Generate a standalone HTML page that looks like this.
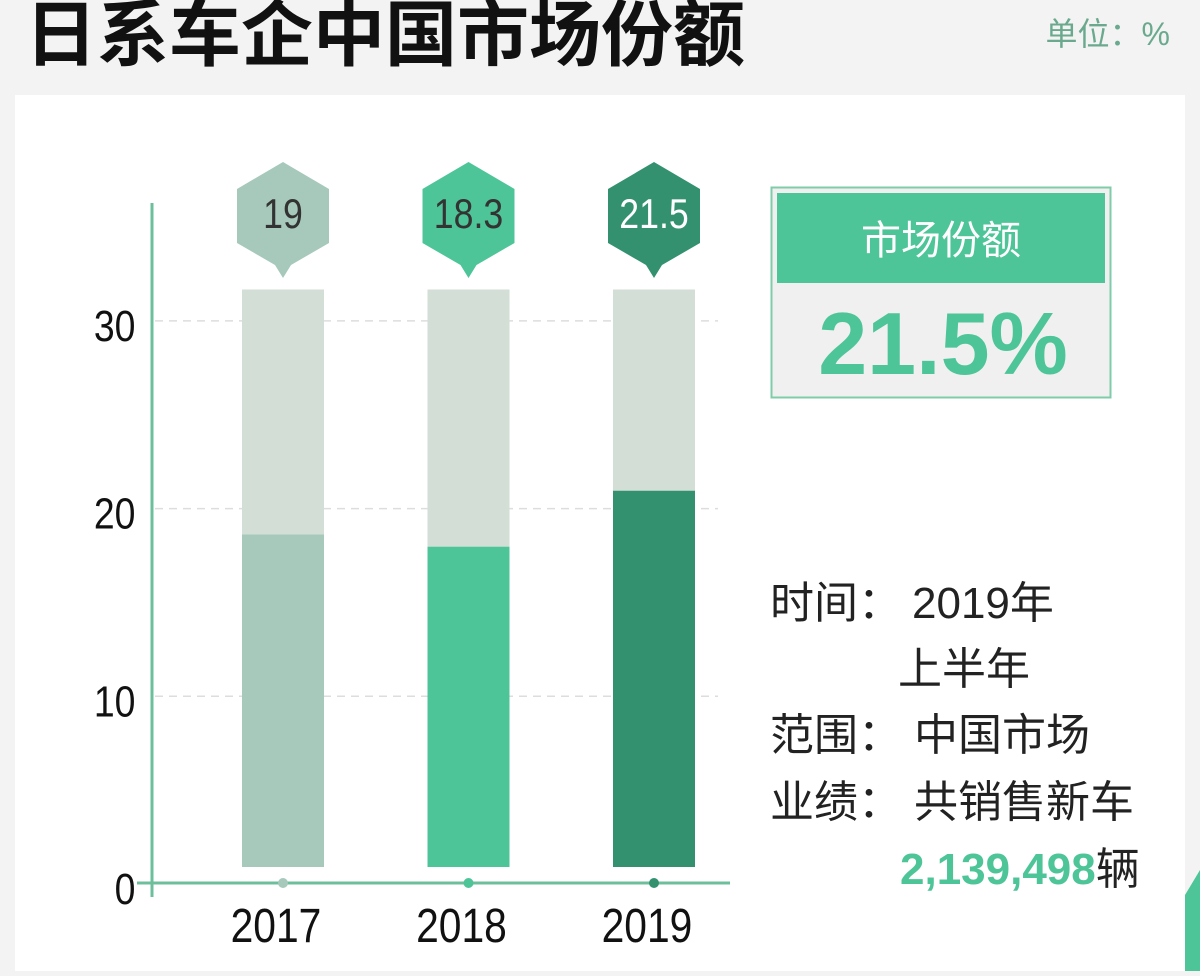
<!DOCTYPE html>
<html><head><meta charset="utf-8"><style>
body{margin:0;width:1200px;height:971px;background:#f3f3f3;overflow:hidden;font-family:"Liberation Sans","Noto Sans CJK SC",sans-serif;}
</style></head><body>
<svg width="1200" height="971" xmlns="http://www.w3.org/2000/svg">
<rect x="0" y="0" width="1200" height="971" fill="#f3f3f3"/>
<rect x="15" y="95" width="1170" height="876" fill="#ffffff"/>
<text x="25" y="60" font-size="72" font-weight="bold" fill="#111" font-family="Liberation Sans,Noto Sans CJK SC,sans-serif">日系车企中国市场份额</text>
<text x="1170" y="45" font-size="32" fill="#6aa98e" text-anchor="end" font-family="Liberation Sans,Noto Sans CJK SC,sans-serif">单位：%</text>
<g id="grid"></g>
<g id="bars"></g>
<line x1="152" y1="203" x2="152" y2="897" stroke="#6dbf9c" stroke-width="3"/>
<line x1="137" y1="883" x2="730" y2="883" stroke="#6dbf9c" stroke-width="3"/>
<g id="labels"></g>
<rect x="771.5" y="187.5" width="339" height="210" fill="#f0f0f0" stroke="#7fcca9" stroke-width="2"/>
<rect x="777" y="193" width="328" height="90" fill="#4dc598"/>
<text x="941" y="254" font-size="40" fill="#fff" text-anchor="middle" font-family="Liberation Sans,Noto Sans CJK SC,sans-serif">市场份额</text>
<text x="943" y="374" font-size="88" font-weight="bold" fill="#4dc598" text-anchor="middle">21.5%</text>
<g font-size="44" fill="#222" font-family="Liberation Sans,Noto Sans CJK SC,sans-serif">
<text x="770" y="618">时间：</text>
<text x="912" y="618">2019年</text>
<text x="898" y="684">上半年</text>
<text x="770" y="750">范围：</text>
<text x="914" y="750">中国市场</text>
<text x="770" y="817">业绩：</text>
<text x="914" y="817">共销售新车</text>
<text x="900" y="884"><tspan fill="#4dc598" font-weight="bold">2,139,498</tspan>辆</text>
</g>
<polygon points="1200,870 1185,895 1185,971 1200,971" fill="#4dc598"/>
<script>
const categories=["2017","2018","2019"];
const values=[19,18.3,21.5];
const ticks=[0,10,20,30];
const tickLabels=["0","10","20","30"];
const bgMax=33;
const colors=["#a6c9bb","#4dc598","#339170"];
const textColors=["#333","#333","#fff"];
const NS="http://www.w3.org/2000/svg";
function yAxis(v){return 884-v*18.77;}
function yBar(v){return 867-v*17.5;}
function xCenter(i){return 283+i*185.5;}
const grid=document.getElementById('grid'),bars=document.getElementById('bars'),labels=document.getElementById('labels');
function mk(tag,attrs,parent){const e=document.createElementNS(NS,tag);for(const k in attrs)e.setAttribute(k,attrs[k]);parent.appendChild(e);return e;}
ticks.forEach((t,i)=>{
 if(t>0){const l=mk('line',{x1:155,x2:718,y1:yAxis(t),y2:yAxis(t),stroke:'#ddd','stroke-width':1.5,'stroke-dasharray':'8,6'},grid);
 
 }
 const tx=mk('text',{y:yAxis(t)+20,'font-size':44,fill:'#111','text-anchor':'end','font-family':'Liberation Sans,sans-serif'},labels);
 tx.setAttribute('transform',`translate(18,0) scale(0.85,1)`);
 tx.setAttribute('x',120/0.85-3);
 tx.textContent=tickLabels[i];
 
 
});
categories.forEach((c,i)=>{
 const cx=xCenter(i),w=82;
 const bg=mk('rect',{x:cx-w/2,y:yBar(bgMax),width:w,height:yBar(0)-yBar(bgMax),fill:'#d3ded7'},bars);
 
 
 const b=mk('rect',{x:cx-w/2,y:yBar(values[i]),width:w,height:yBar(0)-yBar(values[i]),fill:colors[i]},bars);
 
 
 const d=mk('circle',{cx:cx,cy:883,r:5,fill:colors[i]},labels);
 
 
 const h=mk('polygon',{points:`${cx},162 ${cx+46},189 ${cx+46},243 ${cx+8},265 ${cx},278 ${cx-8},265 ${cx-46},243 ${cx-46},189`,fill:colors[i]},labels);
 
 
 const vt=mk('text',{x:cx/0.85,y:228,'font-size':42,fill:textColors[i],'text-anchor':'middle',transform:'scale(0.85,1)'},labels);
 vt.textContent=String(values[i]);
 
 
 const xt=mk('text',{x:(cx-7)/0.85,y:942,'font-size':48,fill:'#111','text-anchor':'middle',transform:'scale(0.85,1)'},labels);
 xt.textContent=c;
 
 
});
</script>
</svg>
</body></html>
